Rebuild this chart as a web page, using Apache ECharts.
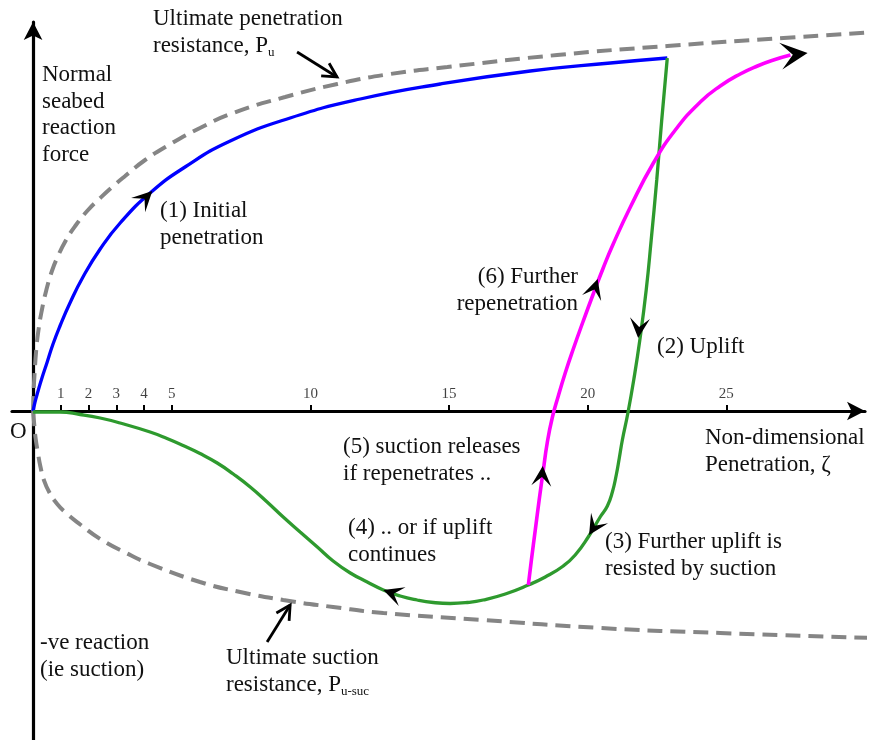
<!DOCTYPE html>
<html>
<head>
<meta charset="utf-8">
<script src="https://cdn.jsdelivr.net/npm/echarts@6/dist/echarts.min.js"></script>
<style>
  html, body { margin: 0; padding: 0; background: #fff; }
  #chart { width: 881px; height: 740px; }
</style>
</head>
<body>
<div id="chart"></div>
<script>
// Non-dimensional penetration ζ (x) against normal seabed reaction force (y, schematic units)

const xTickValues = [1, 2, 3, 4, 5, 10, 15, 20, 25];

// Ultimate penetration resistance Pu (upper dashed envelope)
const ultimatePenetration = [
  [0, 0], [0.02, 0.2], [0.06, 0.4], [0.11, 0.6], [0.19, 0.8], [0.31, 1.0], [0.47, 1.2],
  [0.68, 1.4], [0.9, 1.55], [1.17, 1.7], [1.52, 1.85], [1.95, 2.0], [2.42, 2.13],
  [2.85, 2.24], [3.32, 2.35], [4.04, 2.51], [4.83, 2.65], [6.02, 2.83], [7.21, 2.98],
  [9.09, 3.14], [10.97, 3.27], [12.88, 3.37], [14.94, 3.44], [18.9, 3.56], [22.87, 3.65],
  [27.06, 3.73], [30.37, 3.79]
];

// Ultimate suction resistance Pu-suc (lower dashed envelope)
const ultimateSuction = [
  [0, 0], [0.04, -0.13], [0.09, -0.27], [0.17, -0.41], [0.26, -0.55], [0.39, -0.69],
  [0.58, -0.81], [0.87, -0.93], [1.23, -1.03], [1.7, -1.135], [2.42, -1.28],
  [3.32, -1.415], [4.22, -1.53], [6.02, -1.71], [7.47, -1.81], [9.02, -1.89],
  [10.82, -1.96], [12.63, -2.02], [16.23, -2.09], [20.45, -2.17], [24.78, -2.22],
  [30.3, -2.27]
];

// (1) Initial penetration
const initialPenetration = [
  [0, 0], [0.07, 0.09], [0.18, 0.2], [0.32, 0.33], [0.51, 0.49], [0.72, 0.67],
  [0.97, 0.85], [1.33, 1.08], [1.8, 1.34], [2.42, 1.62], [3.14, 1.88], [4.22, 2.18],
  [5.48, 2.44], [7.11, 2.7], [9.27, 2.93], [11.8, 3.12], [14.68, 3.27], [17.93, 3.4],
  [20.82, 3.48], [22.87, 3.53]
];

// (2) Uplift, (3) suction resisted uplift, (4) continued uplift back towards zero
const upliftPath = [
  [22.87, 3.53], [22.67, 2.91], [22.49, 2.31], [22.29, 1.71], [22.11, 1.21], [21.88, 0.71],
  [21.66, 0.31], [21.45, -0.02], [21.25, -0.29], [21.14, -0.47], [21.03, -0.64],
  [20.89, -0.81], [20.71, -0.95], [20.45, -1.06], [20.02, -1.26], [19.55, -1.44],
  [19.12, -1.55], [18.47, -1.66], [17.86, -1.74], [17.03, -1.83], [16.23, -1.89],
  [15.66, -1.915], [15.04, -1.925], [14.43, -1.915], [13.85, -1.89], [13.24, -1.85],
  [12.63, -1.79], [12.05, -1.71], [11.44, -1.62], [10.82, -1.5], [10.25, -1.36],
  [9.63, -1.21], [9.02, -1.06], [8.44, -0.91], [7.83, -0.76], [7.22, -0.63],
  [6.64, -0.52], [6.02, -0.425], [5.41, -0.345], [4.83, -0.275], [4.22, -0.21],
  [3.14, -0.12], [2.42, -0.07], [1.7, -0.035], [0.97, -0.01], [0, -0.01]
];

// (5) suction release and (6) further repenetration
const repenetration = [
  [17.86, -1.74], [17.97, -1.49], [18.11, -1.19], [18.25, -0.89], [18.4, -0.59],
  [18.54, -0.32], [18.72, -0.07], [18.94, 0.15], [19.19, 0.38], [19.48, 0.62],
  [19.84, 0.9], [20.2, 1.17], [20.56, 1.43], [20.92, 1.67], [21.54, 2.04],
  [22.37, 2.48], [23.16, 2.81], [24.06, 3.09], [24.78, 3.25], [25.5, 3.37],
  [26.12, 3.45], [26.7, 3.51], [27.31, 3.56]
];

// Direction arrowheads on the paths: [tipX, tipY, tailX, tailY, length]
const pathArrows = [
  [4.3, 2.2, 3.9, 2.09, 20],
  [21.82, 0.73, 21.94, 1.1, 20],
  [20.05, -1.24, 20.45, -1.06, 20],
  [12.63, -1.79, 13.24, -1.85, 20],
  [18.38, -0.55, 18.3, -0.85, 20],
  [20.36, 1.32, 20.12, 1.11, 20],
  [27.93, 3.58, 27.31, 3.56, 27]
];

// Pointer arrows from the envelope captions: [fromX, fromY, toX, toY]
const pointerArrows = [
  [9.52, 3.59, 10.96, 3.34],
  [8.44, -2.31, 9.27, -1.94]
];

const FONT = '"Liberation Serif", "Times New Roman", serif';
const INK = '#111';

function arrowHead(params, api) {
  const tip = api.coord([api.value(0), api.value(1)]);
  const tail = api.coord([api.value(2), api.value(3)]);
  const L = api.value(4);
  const W = L * 0.5;
  const a = Math.atan2(tip[1] - tail[1], tip[0] - tail[0]);
  const c = Math.cos(a), s = Math.sin(a);
  const pt = (u, v) => [tip[0] + u * c - v * s, tip[1] + u * s + v * c];
  return {
    type: 'polygon',
    shape: { points: [pt(0, 0), pt(-L, -W), pt(-L * 0.55, 0), pt(-L, W)] },
    style: { fill: '#000' }
  };
}

function pointer(params, api) {
  const p0 = api.coord([api.value(0), api.value(1)]);
  const p1 = api.coord([api.value(2), api.value(3)]);
  const a = Math.atan2(p1[1] - p0[1], p1[0] - p0[0]);
  const c = Math.cos(a), s = Math.sin(a);
  const pt = (u, v) => [p1[0] + u * c - v * s, p1[1] + u * s + v * c];
  return {
    type: 'group',
    children: [
      { type: 'line', shape: { x1: p0[0], y1: p0[1], x2: p1[0], y2: p1[1] },
        style: { stroke: '#000', lineWidth: 2.8 } },
      { type: 'polyline', shape: { points: [pt(-14, -7.5), pt(0, 0), pt(-14, 7.5)] },
        style: { stroke: '#000', lineWidth: 2.8, fill: null } }
    ]
  };
}

// Multi-line caption; y is the centre of its first line
function caption(x, y, text, extra) {
  return {
    type: 'text',
    x: x, y: y - 13,
    style: Object.assign({
      text: text,
      font: '23px ' + FONT,
      fill: INK,
      lineHeight: 26.5,
      textVerticalAlign: 'top'
    }, extra || {})
  };
}

const subStyle = { fontSize: 13, fontFamily: FONT, fill: INK, verticalAlign: 'bottom', padding: [11, 0, 0, 0] };

const chart = echarts.init(document.getElementById('chart'));

chart.setOption({
  animation: false,
  backgroundColor: '#fff',
  grid: { left: 12, right: 16, top: 22, bottom: 0, containLabel: false },
  xAxis: {
    type: 'value',
    min: -0.76,
    max: 30,
    splitLine: { show: false },
    axisLine: { onZero: true, lineStyle: { color: '#000', width: 3.2 }, symbol: ['none', 'arrow'], symbolSize: [14, 18] },
    axisTick: { show: true, inside: true, length: 6, customValues: xTickValues, lineStyle: { color: '#000', width: 2 } },
    axisLabel: { show: false }
  },
  yAxis: {
    type: 'value',
    min: -3.29,
    max: 3.89,
    splitLine: { show: false },
    axisLine: { onZero: true, lineStyle: { color: '#000', width: 3.2 }, symbol: ['none', 'arrow'], symbolSize: [14, 18] },
    axisTick: { show: false },
    axisLabel: { show: false }
  },
  series: [
    { type: 'line', data: ultimatePenetration, smooth: 0.5, symbol: 'none', clip: false,
      lineStyle: { color: '#858585', width: 4, type: [15, 8] }, z: 2 },
    { type: 'line', data: ultimateSuction, smooth: 0.5, symbol: 'none', clip: false,
      lineStyle: { color: '#858585', width: 4, type: [15, 8] }, z: 2 },
    { type: 'line', data: initialPenetration, smooth: 0.5, symbol: 'none', clip: false,
      lineStyle: { color: '#0000ff', width: 3.3 }, z: 3 },
    { type: 'line', data: upliftPath, smooth: 0.5, symbol: 'none', clip: false,
      lineStyle: { color: '#2e9a2e', width: 3.3 }, z: 3 },
    { type: 'line', data: repenetration, smooth: 0.5, symbol: 'none', clip: false,
      lineStyle: { color: '#ff00ff', width: 3.6 }, z: 4 },
    { type: 'custom', data: pathArrows, renderItem: arrowHead, clip: false, z: 5,
      encode: { x: [0, 2], y: [1, 3] } },
    { type: 'custom', data: pointerArrows, renderItem: pointer, clip: false, z: 5,
      encode: { x: [0, 2], y: [1, 3] } },
    // tick numbers sitting just above the ζ axis
    { type: 'scatter', data: xTickValues.map(v => [v, 0]), symbolSize: 0, z: 6,
      label: { show: true, position: 'top', distance: 9, formatter: p => String(p.value[0]),
        fontFamily: FONT, fontSize: 15, color: INK } }
  ],
  graphic: [
    caption(153, 19, 'Ultimate penetration\nresistance, P{sub|u}', { rich: { sub: subStyle } }),
    caption(42, 75, 'Normal\nseabed\nreaction\nforce'),
    caption(160, 211, '(1) Initial\npenetration'),
    caption(578, 277, '(6) Further\nrepenetration', { textAlign: 'right' }),
    caption(657, 347, '(2) Uplift'),
    caption(10, 432, 'O'),
    caption(705, 438, 'Non-dimensional\nPenetration, ζ'),
    caption(343, 447, '(5) suction releases\nif repenetrates ..'),
    caption(348, 528, '(4) .. or if uplift\ncontinues'),
    caption(605, 542, '(3) Further uplift is\nresisted by suction'),
    caption(40, 643, '-ve reaction\n(ie suction)'),
    caption(226, 658, 'Ultimate suction\nresistance, P{sub|u-suc}', { rich: { sub: subStyle } })
  ]
});
</script>
</body>
</html>
